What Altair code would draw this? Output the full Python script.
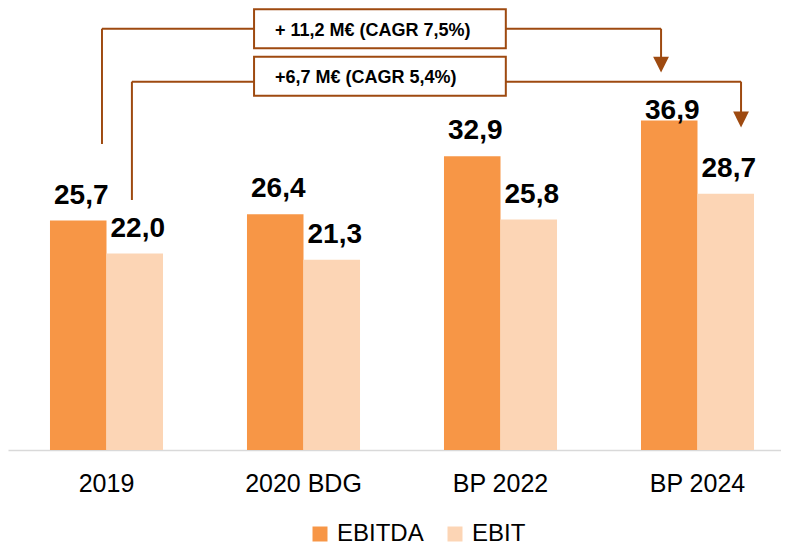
import altair as alt
import pandas as pd

# ---------------- data ----------------
categories = ["2019", "2020 BDG", "BP 2022", "BP 2024"]
series = ["EBITDA", "EBIT"]
ebitda = [25.7, 26.4, 32.9, 36.9]
ebit = [22.0, 21.3, 25.8, 28.7]
colors = ["#F79646", "#FCD5B5"]
annot_texts = ["+ 11,2 M€ (CAGR 7,5%)", "+6,7 M€ (CAGR 5,4%)"]

# ---------------- layout ----------------
WIDTH, HEIGHT = 773, 442
X_RANGE = [0, 788]
Y_MAX = 49.5
PX_PER_UNIT = HEIGHT / Y_MAX
ARROW = "#9E4A10"
FONT = "Liberation Sans"
# label pushed down (pixels) where the chart top leaves no room
LABEL_SHIFT = {("BP 2024", "EBITDA"): 15}

rows = []
for c, a, b in zip(categories, ebitda, ebit):
    rows.append(dict(cat=c, series="EBITDA", value=a))
    rows.append(dict(cat=c, series="EBIT", value=b))
df = pd.DataFrame(rows)
df["label"] = df["value"].map(lambda v: f"{v:.1f}".replace(".", ","))
df["label_y"] = [v - LABEL_SHIFT.get((c, s), 0) / PX_PER_UNIT
                 for c, s, v in zip(df["cat"], df["series"], df["value"])]

brackets = [
    dict(text=annot_texts[0], xs=0.477, xe=3.315, level=47.18, sb=34.27, head=43.16, bt=49.36, bb=44.99),
    dict(text=annot_texts[1], xs=0.629, xe=3.721, level=41.25, sb=28.0, head=37.01, bt=44.05, bb=39.68),
]
BOX_X = (1.249, 2.527)
TEXT_X = 1.355

seg_rows, box_rows, head_rows = [], [], []
for b in brackets:
    seg_rows.append(dict(x=b["xs"], y=b["sb"], x2=b["xs"], y2=b["level"]))
    seg_rows.append(dict(x=b["xs"], y=b["level"], x2=b["xe"], y2=b["level"]))
    seg_rows.append(dict(x=b["xe"], y=b["level"], x2=b["xe"], y2=b["head"]))
    box_rows.append(dict(x=BOX_X[0], x2=BOX_X[1], y=b["bt"], y2=b["bb"], tx=TEXT_X,
                         ty=(b["bt"] + b["bb"]) / 2, text=b["text"]))
    head_rows.append(dict(x=b["xe"], y=b["head"]))
seg_df = pd.DataFrame(seg_rows)
box_df = pd.DataFrame(box_rows)
head_df = pd.DataFrame(head_rows)

# ---------------- charts ----------------
yscale = alt.Scale(domain=[0, Y_MAX], nice=False, zero=True)
xq = alt.Scale(domain=[0, 4], range=X_RANGE, nice=False, zero=False)

xband = alt.X("cat:N", sort=categories,
              scale=alt.Scale(range=X_RANGE, paddingInner=0, paddingOuter=0),
              axis=alt.Axis(title=None, labelFontSize=25, labelFont=FONT, labelColor="black",
                            ticks=False, domainColor="#D9D9D9", domainWidth=1.5,
                            labelPadding=21, labelAngle=0))
xoff = alt.XOffset("series:N", sort=series, scale=alt.Scale(paddingOuter=0.743, paddingInner=0))

bars = alt.Chart(df).mark_bar().encode(
    x=xband,
    xOffset=xoff,
    y=alt.Y("value:Q", scale=yscale, axis=None),
    color=alt.Color("series:N", scale=alt.Scale(domain=series, range=colors),
                    legend=alt.Legend(title=None, orient="none", legendX=300, legendY=514,
                                      direction="horizontal", symbolType="square",
                                      symbolSize=225, symbolStrokeWidth=0,
                                      labelFontSize=24, labelFont=FONT, labelColor="black",
                                      labelOffset=5, columnPadding=19)),
)
labels = alt.Chart(df).mark_text(fontSize=28, fontWeight="bold", font=FONT, baseline="alphabetic",
                                 dy=-17, dx=3, color="black").encode(
    x=xband,
    xOffset=xoff,
    y=alt.Y("label_y:Q", scale=yscale, axis=None),
    text="label:N",
)
main = alt.layer(bars, labels)

segs = alt.Chart(seg_df).mark_rule(color=ARROW, strokeWidth=2).encode(
    x=alt.X("x:Q", scale=xq, axis=None), x2="x2:Q",
    y=alt.Y("y:Q", scale=yscale, axis=None), y2="y2:Q",
)
boxes = alt.Chart(box_df).mark_rect(fill="white", stroke=ARROW, strokeWidth=2).encode(
    x=alt.X("x:Q", scale=xq, axis=None), x2="x2:Q",
    y=alt.Y("y:Q", scale=yscale, axis=None), y2="y2:Q",
)
texts = alt.Chart(box_df).mark_text(fontSize=18, fontWeight="bold", font=FONT, align="left",
                                    baseline="middle", dy=2, color="black").encode(
    x=alt.X("tx:Q", scale=xq, axis=None),
    y=alt.Y("ty:Q", scale=yscale, axis=None),
    text="text:N",
)
heads = alt.Chart(head_df).mark_point(shape="M-1,-1L1,-1L0,1Z", size=250, filled=True,
                                      color=ARROW, opacity=1).encode(
    x=alt.X("x:Q", scale=xq, axis=None),
    y=alt.Y("y:Q", scale=yscale, axis=None),
)
annot = alt.layer(segs, boxes, texts, heads)

chart = alt.layer(main, annot).resolve_scale(x="independent").properties(
    width=WIDTH, height=HEIGHT,
    autosize=alt.AutoSizeParams(type="none"),
    padding={"left": 0, "top": 0, "right": 0, "bottom": 96},
).configure_view(stroke=None)

chart.save("out.html", embed_options={"renderer": "svg", "actions": False})
